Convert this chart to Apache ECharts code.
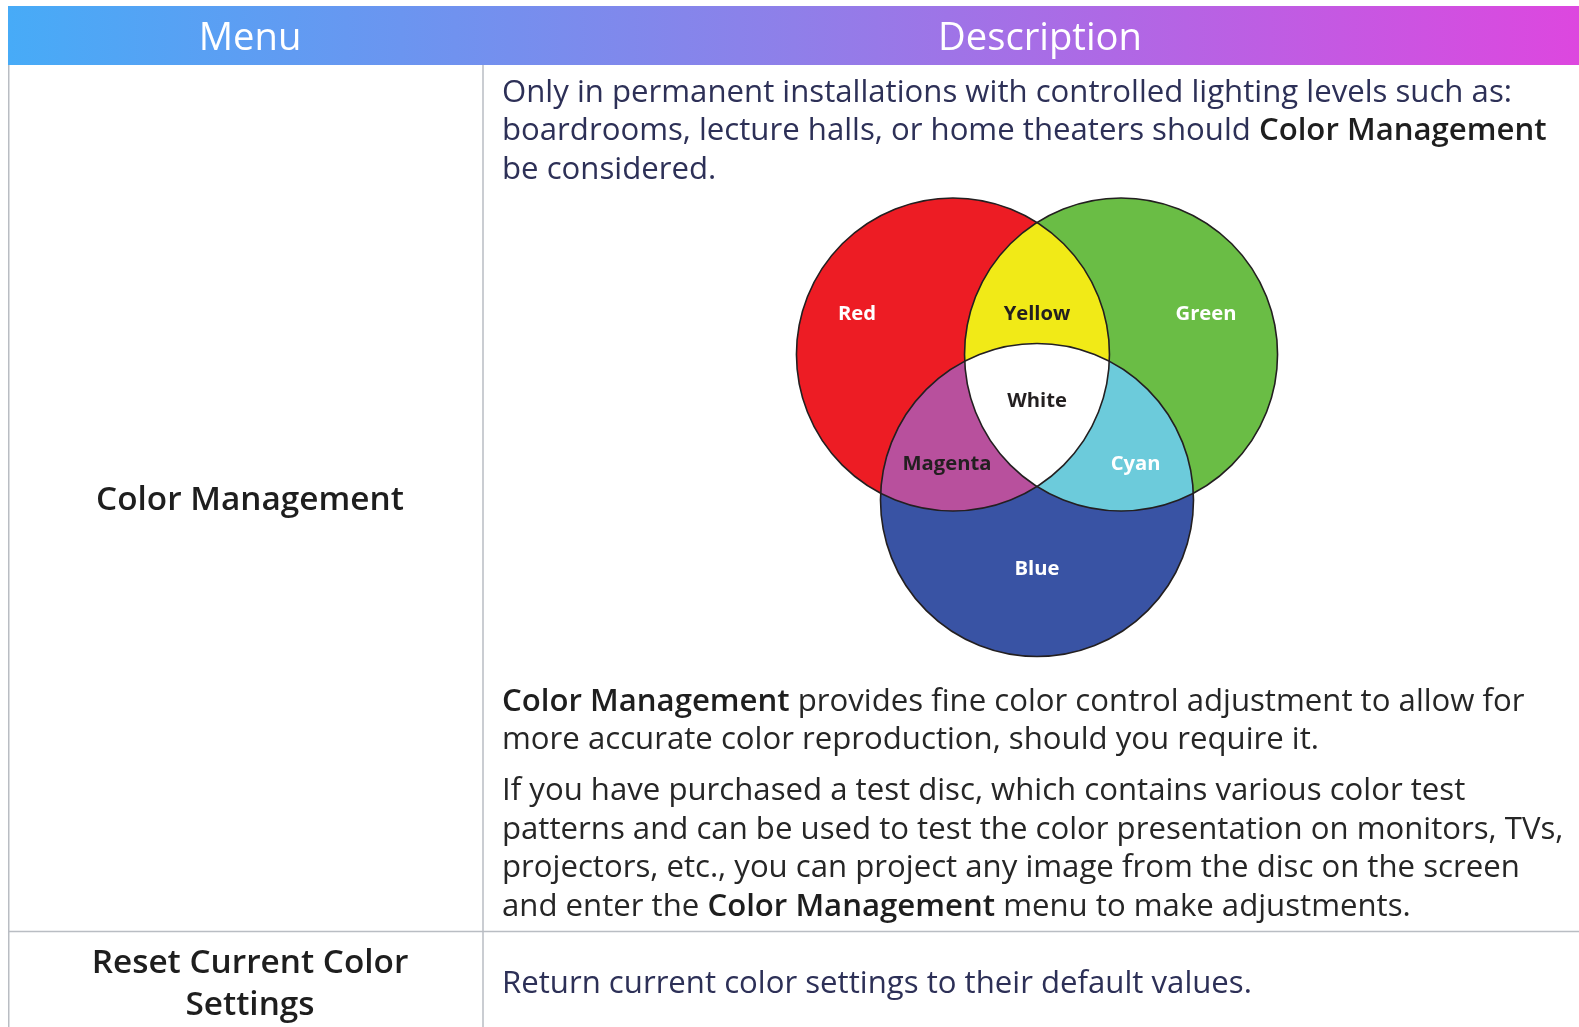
<!DOCTYPE html>
<html>
<head>
<meta charset="utf-8">
<script src="https://cdn.jsdelivr.net/npm/echarts@6/dist/echarts.min.js"></script>
<style>
html,body{margin:0;padding:0;background:#ffffff;}
#main{width:1579px;height:1027px;}
</style>
</head>
<body>
<div id="main"></div>
<script>
// ---------------- data ----------------
const headerLabels = ['Menu', 'Description'];
const menuRow1 = ['Color Management'];
const menuRow2 = ['Reset Current Color', 'Settings'];
const descPara1 = [
  'Only in permanent installations with controlled lighting levels such as:',
  'boardrooms, lecture halls, or home theaters should {b|Color Management}',
  'be considered.'
];
const descPara2 = [
  '{b|Color Management} provides fine color control adjustment to allow for',
  'more accurate color reproduction, should you require it.'
];
const descPara3 = [
  'If you have purchased a test disc, which contains various color test',
  'patterns and can be used to test the color presentation on monitors, TVs,',
  'projectors, etc., you can project any image from the disc on the screen',
  'and enter the {b|Color Management} menu to make adjustments.'
];
const descRow2 = ['Return current color settings to their default values.'];

// Venn diagram (units: circle radius = 1)
const circleNames = ['Red', 'Green', 'Blue'];
const circleX = [-0.537, 0.537, 0];
const circleY = [0.31, 0.31, -0.62];
const circleR = [1, 1, 1];

const regionNames = ['Red', 'Yellow', 'Green', 'White', 'Magenta', 'Cyan', 'Blue'];
const regionSets = [[0], [0, 1], [1], [0, 1, 2], [0, 2], [1, 2], [2]];
const regionLabelX = [-1.15, 0, 1.08, 0, -0.575, 0.63, 0];
const regionLabelY = [0.57, 0.57, 0.57, 0.01, -0.39, -0.39, -1.06];

// ---------------- styles ----------------
const regionFill = {
  Red: '#ed1c24', Yellow: '#f1ea17', Green: '#6abd45', White: '#ffffff',
  Magenta: '#b8509d', Cyan: '#6ccbdb', Blue: '#3953a4'
};
const regionText = {
  Red: '#ffffff', Yellow: '#231f20', Green: '#ffffff', White: '#231f20',
  Magenta: '#231f20', Cyan: '#ffffff', Blue: '#ffffff'
};
const FAM = "'Open Sans'";
const NAVY = '#2d3057';
const GRAY = '#262626';
const DARK = '#1e1e1e';
const BORDER = '#b9bdc3';

// font fitting helpers (layout)
const mctx = document.createElement('canvas').getContext('2d');
function textW(t, weight, size) { mctx.font = weight + ' ' + size + 'px ' + FAM; return mctx.measureText(t).width; }
function fitSize(samples, weight) {
  const r = samples.map(s => 100 * s[1] / textW(s[0], weight, 100)).sort((a, b) => a - b);
  return r[Math.floor(r.length / 2)];
}
const headSize = fitSize([[headerLabels[0], 95], [headerLabels[1], 204]], 500);
const menuSize = fitSize([[menuRow1[0], 308], [menuRow2[0], 311], [menuRow2[1], 130]], 600);
const paraSize = fitSize([
  [descPara1[0], 1005], [descPara1[2], 215], [descPara2[1], 806],
  [descPara3[0], 969], [descPara3[1], 1062], [descPara3[2], 1025], [descRow2[0], 740]
], 400);
const vennSize = fitSize([['Red', 38], ['Yellow', 66], ['Green', 62], ['White', 62], ['Magenta', 90], ['Cyan', 49], ['Blue', 45]], 'bold');

// ---------------- table graphics ----------------
const graphics = [];
graphics.push({
  type: 'rect', z: 1, silent: true,
  shape: { x: 8, y: 6, width: 1571, height: 59 },
  style: { fill: { type: 'linear', x: 0, y: 0, x2: 1, y2: 0, colorStops: [
    { offset: 0, color: '#47abf7' }, { offset: 0.5, color: '#8f7fe9' }, { offset: 1, color: '#dd47df' }
  ] } }
});
function vline(x, y1, y2) { graphics.push({ type: 'line', silent: true, z: 1, shape: { x1: x, y1: y1, x2: x, y2: y2 }, style: { stroke: BORDER, lineWidth: 1.5 } }); }
function hline(y, x1, x2) { graphics.push({ type: 'line', silent: true, z: 1, shape: { x1: x1, y1: y, x2: x2, y2: y }, style: { stroke: BORDER, lineWidth: 1.5 } }); }
vline(8.75, 65, 1027);
vline(483, 65, 1027);
hline(931.5, 8, 1579);

function txt(text, x, y, size, weight, color, align) {
  graphics.push({
    type: 'text', z: 5, silent: true, x: x, y: y,
    style: {
      text: text, fontFamily: FAM, fontSize: size, fontWeight: weight, fill: color,
      align: align, textAlign: align, verticalAlign: 'middle', textVerticalAlign: 'middle',
      rich: { b: { fontFamily: FAM, fontSize: size, fontWeight: 600, fill: DARK } }
    }
  });
}
txt(headerLabels[0], 250, 39, headSize, 500, '#ffffff', 'center');
txt(headerLabels[1], 1040, 39, headSize, 500, '#ffffff', 'center');
txt(menuRow1[0], 250, 500, menuSize, 600, DARK, 'center');
txt(menuRow2[0], 250, 963, menuSize, 600, DARK, 'center');
txt(menuRow2[1], 250, 1005, menuSize, 600, DARK, 'center');

const p1y = [93, 131.5, 170];
descPara1.forEach((t, i) => txt(t, 502, p1y[i], paraSize, 400, NAVY, 'left'));
const p2y = [702, 740.5];
descPara2.forEach((t, i) => txt(t, 502, p2y[i], paraSize, 400, GRAY, 'left'));
const p3y = [791.5, 830, 868.5, 907];
descPara3.forEach((t, i) => txt(t, 502, p3y[i], paraSize, 400, GRAY, 'left'));
txt(descRow2[0], 502, 984, paraSize, 400, NAVY, 'left');

// ---------------- venn helpers ----------------
function circlePx(i, api) {
  const c = api.coord([circleX[i], circleY[i]]);
  const e = api.coord([circleX[i] + circleR[i], circleY[i]]);
  return { x: c[0], y: c[1], r: Math.abs(e[0] - c[0]) };
}
function regionShape(idxs, api) {
  const cs = idxs.map(i => circlePx(i, api));
  if (cs.length === 1) return { type: 'circle', shape: { cx: cs[0].x, cy: cs[0].y, r: cs[0].r } };
  const pts = [];
  const N = 1440;
  cs.forEach((c, k) => {
    for (let j = 0; j < N; j++) {
      const a = 2 * Math.PI * j / N;
      const px = c.x + c.r * Math.cos(a), py = c.y + c.r * Math.sin(a);
      let inside = true;
      cs.forEach((o, m) => { if (m !== k && Math.hypot(px - o.x, py - o.y) > o.r + 0.01) inside = false; });
      if (inside) pts.push([px, py]);
    }
  });
  let mx = 0, my = 0;
  pts.forEach(p => { mx += p[0]; my += p[1]; });
  mx /= pts.length; my /= pts.length;
  pts.sort((p, q) => Math.atan2(p[1] - my, p[0] - mx) - Math.atan2(q[1] - my, q[0] - mx));
  return { type: 'polygon', shape: { points: pts } };
}

const regionData = regionNames.map((n, i) => [regionLabelX[i], regionLabelY[i], i]);
const circleData = circleNames.map((n, i) => [circleX[i], circleY[i], circleR[i]]);

const option = {
  animation: false,
  backgroundColor: '#ffffff',
  grid: { left: 786.6, top: 168.2, width: 500.8, height: 500.8, show: false },
  xAxis: { type: 'value', min: -1.6, max: 1.6, show: false },
  yAxis: { type: 'value', min: -1.7, max: 1.5, show: false },
  graphic: graphics,
  series: [
    {
      type: 'custom', name: 'regions', coordinateSystem: 'cartesian2d', z: 2, silent: true,
      data: regionData, encode: { x: 0, y: 1 },
      renderItem: function (params, api) {
        const i = api.value(2);
        const el = regionShape(regionSets[i], api);
        el.z2 = regionSets[i].length;
        el.style = { fill: regionFill[regionNames[i]] };
        return el;
      }
    },
    {
      type: 'custom', name: 'outlines', coordinateSystem: 'cartesian2d', z: 3, silent: true,
      data: circleData, encode: { x: 0, y: 1 },
      renderItem: function (params, api) {
        const c = api.coord([api.value(0), api.value(1)]);
        const e = api.coord([api.value(0) + api.value(2), api.value(1)]);
        return { type: 'circle', shape: { cx: c[0], cy: c[1], r: Math.abs(e[0] - c[0]) },
          style: { fill: 'none', stroke: '#231f20', lineWidth: 1.6 } };
      }
    },
    {
      type: 'custom', name: 'labels', coordinateSystem: 'cartesian2d', z: 4, silent: true,
      data: regionData, encode: { x: 0, y: 1 },
      renderItem: function (params, api) {
        const i = api.value(2);
        const c = api.coord([api.value(0), api.value(1)]);
        const name = regionNames[i];
        return { type: 'text', x: c[0], y: c[1],
          style: { text: name, fontFamily: FAM, fontSize: vennSize, fontWeight: 'bold', fill: regionText[name],
            align: 'center', textAlign: 'center', verticalAlign: 'middle', textVerticalAlign: 'middle' } };
      }
    }
  ]
};
const chart = echarts.init(document.getElementById('main'), null, { renderer: 'canvas' });
chart.setOption(option);
</script>
</body>
</html>
